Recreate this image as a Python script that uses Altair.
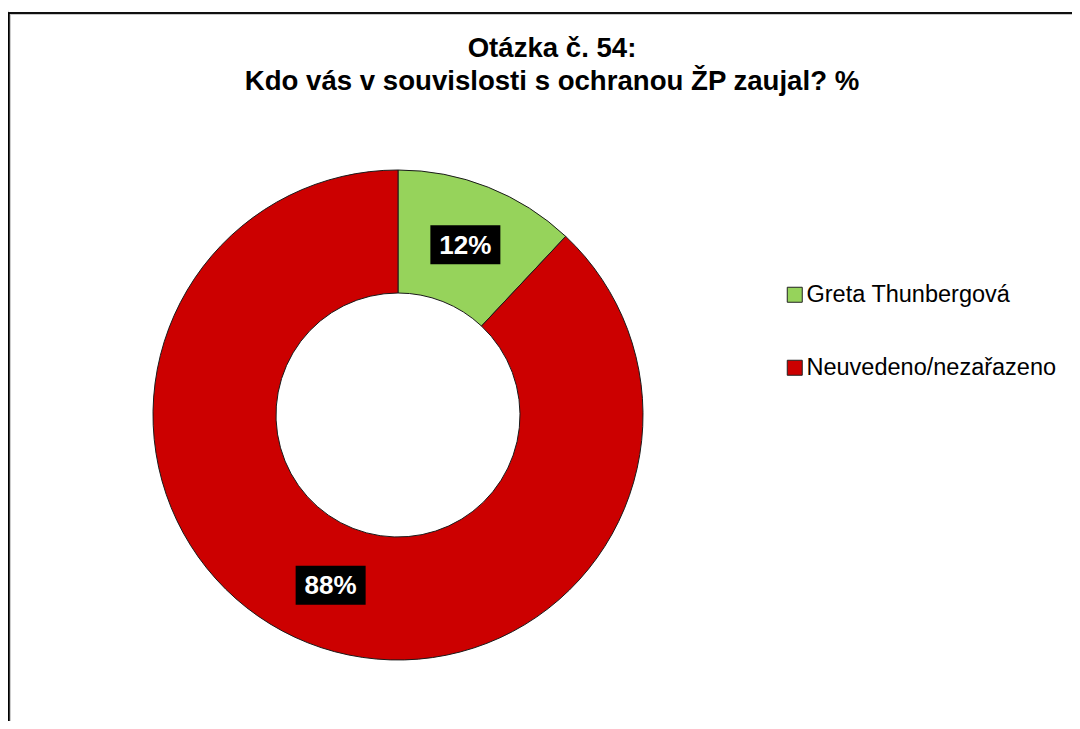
import altair as alt
import pandas as pd

# ---- data ----
categories = ["Greta Thunbergová", "Neuvedeno/nezařazeno"]
values = [12, 88]
colors = ["#96D35B", "#CC0000"]
title_lines = ["Otázka č. 54:", "Kdo vás v souvislosti s ochranou ŽP zaujal? %"]

df = pd.DataFrame({
    "kategorie": categories,
    "hodnota": values,
    "poradi": list(range(len(categories))),
})

# ---- layout (pixels, relative to the plot origin at page (8, 8)) ----
W, H = 1064, 713
CX, CY = 390, 407
R_OUT, R_IN, R_LAB = 245, 122, 183
BOX_W, BOX_H = 70, 39
BORDER_Y = 5
FONT = "Liberation Sans"

base = alt.Chart(df)

xs = alt.Scale(domain=[0, W], nice=False, zero=False)
ys = alt.Scale(domain=[0, H], reverse=True, nice=False, zero=False)

color = alt.Color(
    "kategorie:N",
    scale=alt.Scale(domain=categories, range=colors),
    legend=alt.Legend(
        title=None,
        orient="none",
        legendX=775,
        legendY=275,
        symbolType="square",
        symbolSize=225,
        symbolStrokeColor="#222222",
        symbolStrokeWidth=1,
        symbolOpacity=1,
        labelFont=FONT,
        labelFontSize=23.5,
        labelColor="black",
        labelOffset=0,
        rowPadding=48,
        padding=0,
        labelLimit=400,
    ),
)

# white cover over the faint top edge of the view frame
top_cover = base.mark_rule(color="white", strokeWidth=3).encode(
    x=alt.value(0), x2=alt.value(W), y=alt.value(1)
)
top_border = base.mark_rule(color="black", strokeWidth=1.5).encode(
    x=alt.value(0), x2=alt.value(W), y=alt.value(BORDER_Y)
)
top_shadow = base.mark_rule(color="#c8c8c8", strokeWidth=1).encode(
    x=alt.value(2), x2=alt.value(W), y=alt.value(BORDER_Y + 1.5)
)
left_border = base.mark_rule(color="black", strokeWidth=1.5).encode(
    x=alt.value(0.75), y=alt.value(BORDER_Y), y2=alt.value(H)
)
left_shadow = base.mark_rule(color="#c8c8c8", strokeWidth=1).encode(
    x=alt.value(2.2), y=alt.value(BORDER_Y + 1), y2=alt.value(H)
)

arcs = base.mark_arc(
    outerRadius=R_OUT, innerRadius=R_IN, stroke="#1a1a1a", strokeWidth=1
).encode(
    theta=alt.Theta("hodnota:Q", stack=True),
    order=alt.Order("poradi:Q"),
    color=color,
    x=alt.value(CX),
    y=alt.value(CY),
)

lab = (
    base.transform_window(cum="sum(hodnota)", sort=[alt.SortField("poradi")])
    .transform_joinaggregate(total="sum(hodnota)")
    .transform_calculate(
        mid="2*PI*(datum.cum - datum.hodnota/2)/datum.total",
        px=f"{CX} + {R_LAB}*sin(datum.mid)",
        py=f"{CY} - {R_LAB}*cos(datum.mid)",
        bx1=f"datum.px - {BOX_W/2}",
        bx2=f"datum.px + {BOX_W/2}",
        by1=f"datum.py - {BOX_H/2}",
        by2=f"datum.py + {BOX_H/2}",
        txt="format(datum.hodnota/datum.total, '.0%')",
    )
)

boxes = lab.mark_rect(color="black").encode(
    x=alt.X("bx1:Q", scale=xs, axis=None),
    x2="bx2:Q",
    y=alt.Y("by1:Q", scale=ys, axis=None),
    y2="by2:Q",
)

texts = lab.mark_text(
    color="white", fontWeight="bold", fontSize=26, font=FONT,
    align="center", baseline="middle", dy=1
).encode(
    x=alt.X("px:Q", scale=xs, axis=None),
    y=alt.Y("py:Q", scale=ys, axis=None),
    text="txt:N",
)

chart = (
    alt.layer(top_cover, top_shadow, left_shadow, top_border, left_border,
              arcs, boxes, texts)
    .properties(
        width=W,
        height=H,
        padding={"left": 0, "top": 0, "right": 0, "bottom": 0},
        autosize=alt.AutoSizeParams(type="none"),
        title=alt.TitleParams(
            text=title_lines,
            anchor="middle",
            frame="group",
            font=FONT,
            fontSize=27.6,
            fontWeight="bold",
            color="black",
            lineHeight=33,
            offset=-88,
            dx=12,
        ),
    )
    .configure_view(stroke="transparent", strokeWidth=0)
    .configure_axis(grid=False, domain=False, ticks=False, labels=False)
    .configure(background="white")
)

chart.save("out.html", embed_options={"renderer": "svg", "actions": False})
